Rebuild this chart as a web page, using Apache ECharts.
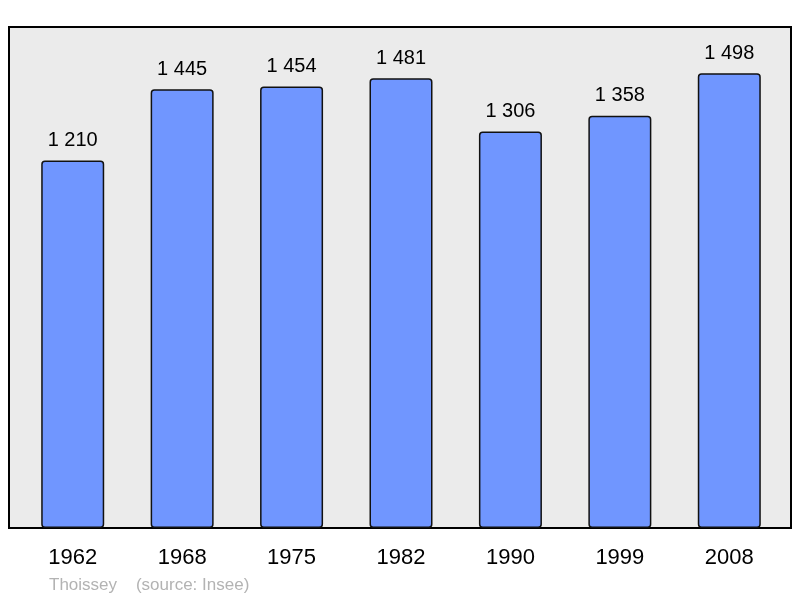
<!DOCTYPE html>
<html>
<head>
<meta charset="utf-8">
<script src="https://cdn.jsdelivr.net/npm/echarts@6/dist/echarts.min.js"></script>
<style>
html, body { margin: 0; padding: 0; background: #fff; }
#main { width: 800px; height: 598px; }
</style>
</head>
<body>
<div id="main"></div>
<script>
// population par recensement
var annees = ['1962', '1968', '1975', '1982', '1990', '1999', '2008'];
var population = [1210, 1445, 1454, 1481, 1306, 1358, 1498];
var commune = 'Thoissey';
var source = '(source: Insee)';

function espaceMilliers(v) {
    return String(v).replace(/\B(?=(\d{3})+(?!\d))/g, ' ');
}

var myChart = echarts.init(document.getElementById('main'));

var option = {
    animation: false,
    title: {
        text: commune + '    ' + source,
        left: 49,
        top: 577,
        padding: 0,
        textStyle: {
            color: '#b3b3b3',
            fontSize: 17,
            fontWeight: 'normal',
            fontFamily: 'Liberation Sans'
        }
    },
    grid: [
        // cadre gris
        {
            left: 9, right: 9, top: 27, bottom: 70,
            show: true,
            backgroundColor: '#ebebeb',
            borderColor: '#000',
            borderWidth: 2
        },
        // barres
        {
            left: 18, right: 16, top: 27, bottom: 70
        }
    ],
    xAxis: [
        { gridIndex: 0, type: 'value', show: false, min: 0, max: 1 },
        {
            gridIndex: 1,
            type: 'category',
            data: annees,
            axisLine: { show: false },
            axisTick: { show: false },
            axisLabel: {
                margin: 19,
                color: '#000',
                fontSize: 22,
                fontFamily: 'Liberation Sans'
            }
        }
    ],
    yAxis: [
        { gridIndex: 0, type: 'value', show: false, min: 0, max: 1 },
        {
            gridIndex: 1,
            type: 'value',
            min: 0,
            max: 1650,
            show: false,
            splitLine: { show: false }
        }
    ],
    series: [{
        type: 'bar',
        xAxisIndex: 1,
        yAxisIndex: 1,
        data: population,
        barWidth: 63,
        itemStyle: {
            color: '#7096ff',
            borderColor: '#111',
            borderWidth: 1.5,
            borderRadius: 3
        },
        label: {
            show: true,
            position: 'top',
            distance: 10,
            color: '#000',
            fontSize: 20,
            fontFamily: 'Liberation Sans',
            formatter: function (p) { return espaceMilliers(p.value); }
        }
    }]
};

myChart.setOption(option);
</script>
</body>
</html>
